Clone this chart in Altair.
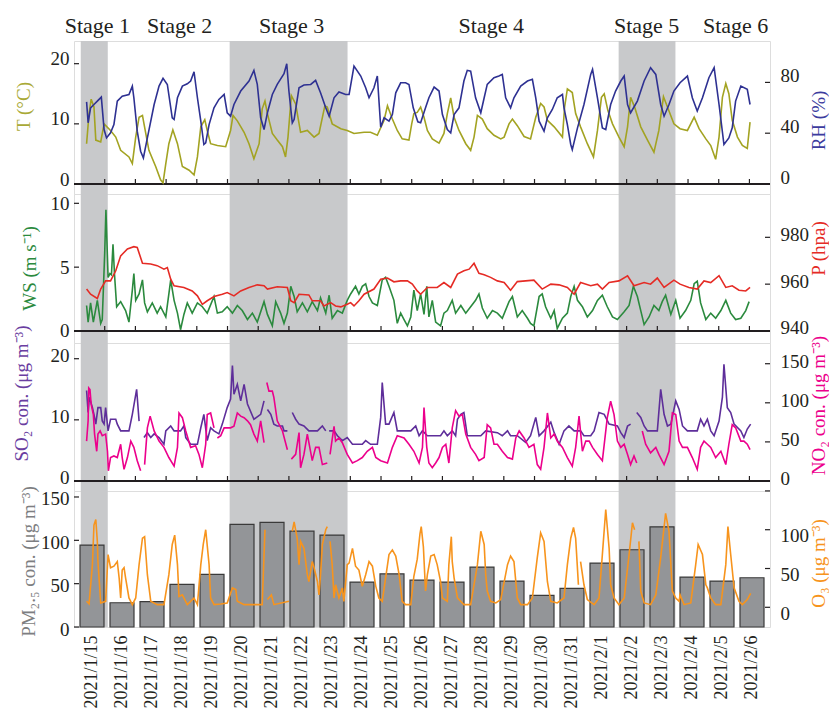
import altair as alt
import pandas as pd

FONT = "Liberation Serif"
INK = "#231f20"

# ---------------- data ----------------
DATES = ["2021/1/15", "2021/1/16", "2021/1/17", "2021/1/18", "2021/1/19", "2021/1/20",
         "2021/1/21", "2021/1/22", "2021/1/23", "2021/1/24", "2021/1/25", "2021/1/26",
         "2021/1/27", "2021/1/28", "2021/1/29", "2021/1/30", "2021/1/31", "2021/2/1",
         "2021/2/2", "2021/2/3", "2021/2/4", "2021/2/5", "2021/2/6"]
PM25 = [94.5, 28.0, 29.2, 49.2, 60.7, 118.3, 120.6, 110.6, 106.0, 51.8, 61.4, 54.1,
        51.8, 69.1, 53.0, 36.5, 44.5, 73.7, 89.1, 115.6, 57.6, 53.0, 56.8]

# time axis: days since 2021/1/15 00:00
SHADE_START = [0.22, 5.07, 17.74]
SHADE_END = [1.10, 8.91, 19.59]
STAGE_NAMES = ["Stage 1", "Stage 2", "Stage 3", "Stage 4", "Stage 5", "Stage 6"]
STAGE_MID = [0.76, 3.44, 7.09, 13.59, 18.65, 21.55]
DAY_TICKS = list(range(1, 23))
X_DOMAIN = [0, 22.67]

T_TICKS = [0, 10, 20]
RH_TICKS = [0, 40, 80]
WS_TICKS = [0, 5, 10]
P_TICKS = [940, 960, 980]
SO2_TICKS = [0, 10, 20]
NO2_TICKS = [0, 50, 100, 150]
PM_TICKS = [0, 50, 100, 150]
O3_TICKS = [0, 50, 100, 150]

T_SERIES = [(0.41, 6.7), (0.49, 11.7), (0.56, 14.1), (0.65, 12.8), (0.71, 7.3), (0.87, 7.0), (0.98, 10.0),
            (1.19, 8.9), (1.36, 7.8), (1.52, 5.6), (1.79, 4.5), (1.90, 3.4), (2.01, 7.8), (2.12, 11.1),
            (2.23, 11.4), (2.28, 10.0), (2.44, 5.6), (2.66, 2.9), (2.82, 0.7), (2.90, 0.2), (2.99, 3.4),
            (3.09, 6.7), (3.22, 9.0), (3.37, 6.7), (3.53, 2.9), (3.75, 2.3), (3.91, 1.5), (4.02, 4.5),
            (4.13, 9.5), (4.26, 10.7), (4.34, 8.9), (4.45, 6.7), (4.67, 6.4), (4.94, 6.2), (5.10, 8.9),
            (5.18, 11.4), (5.32, 10.5), (5.54, 8.6), (5.70, 6.7), (5.86, 4.2), (6.03, 6.7), (6.13, 12.5),
            (6.22, 13.8), (6.30, 11.7), (6.46, 8.4), (6.62, 7.3), (6.79, 6.2), (6.89, 4.5), (6.97, 7.8),
            (7.08, 14.7), (7.22, 13.3), (7.38, 8.6), (7.60, 8.9), (7.82, 7.8), (7.98, 8.4), (8.17, 13.0),
            (8.25, 12.8), (8.41, 10.0), (8.69, 9.2), (8.90, 8.9), (9.12, 8.4), (9.45, 8.6), (9.66, 8.6),
            (9.88, 8.1), (10.10, 10.6), (10.21, 13.0), (10.37, 10.8), (10.53, 8.9), (10.69, 7.5),
            (10.91, 7.3), (11.00, 10.0), (11.07, 11.7), (11.18, 11.9), (11.29, 12.8), (11.40, 11.1),
            (11.51, 8.9), (11.67, 7.5), (11.89, 6.8), (12.05, 8.4), (12.16, 11.7), (12.27, 14.3),
            (12.38, 11.1), (12.54, 8.9), (12.76, 6.7), (12.92, 5.6), (13.03, 7.8), (13.14, 11.4),
            (13.30, 10.8), (13.46, 9.2), (13.68, 8.1), (13.90, 7.5), (14.01, 7.8), (14.17, 10.0),
            (14.28, 10.8), (14.44, 9.7), (14.66, 7.9), (14.87, 7.5), (15.04, 11.1), (15.20, 13.4),
            (15.31, 12.8), (15.42, 10.6), (15.64, 9.5), (15.91, 7.8), (15.98, 12.8), (16.07, 15.8),
            (16.23, 15.2), (16.34, 11.7), (16.50, 9.5), (16.72, 6.7), (16.92, 4.5), (17.05, 8.9),
            (17.18, 14.4), (17.27, 15.0), (17.39, 12.2), (17.54, 10.0), (17.75, 7.8), (17.92, 6.2),
            (18.03, 9.5), (18.13, 14.4), (18.26, 12.8), (18.46, 9.5), (18.68, 7.3), (18.89, 5.3),
            (19.05, 8.9), (19.20, 14.5), (19.33, 12.8), (19.54, 10.0), (19.74, 9.2), (19.98, 8.9),
            (20.20, 11.1), (20.36, 9.2), (20.58, 7.5), (20.74, 6.4), (20.90, 4.1), (21.01, 7.8),
            (21.12, 14.4), (21.23, 16.7), (21.33, 15.0), (21.44, 10.6), (21.61, 7.8), (21.77, 6.4),
            (21.93, 5.9), (22.02, 10.3)]

RH_SERIES = [(0.41, 64.7), (0.46, 48.2), (0.54, 60.0), (0.65, 62.6), (0.76, 65.3), (0.89, 68.4), (0.98, 42.9),
             (1.06, 36.3), (1.19, 40.3), (1.30, 46.8), (1.41, 65.3), (1.57, 69.2), (1.79, 70.5), (1.90, 77.1),
             (1.95, 67.9), (2.06, 41.6), (2.17, 25.8), (2.26, 20.5), (2.39, 36.3), (2.61, 62.6), (2.77, 77.1),
             (2.90, 83.2), (3.04, 78.4), (3.20, 52.1), (3.26, 50.8), (3.37, 67.9), (3.53, 77.1), (3.69, 78.9),
             (3.80, 81.1), (3.91, 88.4), (4.02, 67.9), (4.13, 49.5), (4.23, 31.1), (4.29, 32.4), (4.40, 46.8),
             (4.56, 60.0), (4.72, 66.6), (4.89, 70.5), (4.99, 56.1), (5.10, 53.4), (5.21, 62.6), (5.43, 73.2),
             (5.70, 81.1), (5.86, 89.5), (5.97, 78.4), (6.08, 52.1), (6.19, 42.9), (6.30, 56.1), (6.46, 70.5),
             (6.62, 78.4), (6.84, 86.8), (6.93, 94.7), (7.00, 73.2), (7.11, 48.2), (7.17, 50.8), (7.33, 75.8),
             (7.49, 77.9), (7.71, 78.4), (7.87, 81.6), (8.03, 71.8), (8.20, 60.0), (8.31, 53.4), (8.47, 67.9),
             (8.63, 72.4), (8.85, 70.5), (8.96, 70.5), (9.12, 92.9), (9.34, 85.0), (9.50, 75.8), (9.61, 67.9),
             (9.77, 75.8), (9.88, 85.0), (9.99, 44.7), (10.10, 52.1), (10.26, 49.5), (10.37, 54.7),
             (10.48, 71.8), (10.64, 79.7), (10.80, 79.7), (10.91, 78.4), (11.05, 60.0), (11.20, 49.0),
             (11.29, 48.2), (11.45, 60.0), (11.56, 67.9), (11.73, 76.3), (11.89, 73.2), (12.00, 54.7),
             (12.16, 42.9), (12.27, 40.3), (12.38, 54.7), (12.54, 60.0), (12.70, 81.1), (12.81, 89.5),
             (12.92, 88.9), (13.08, 67.9), (13.25, 56.1), (13.36, 67.9), (13.46, 78.4), (13.68, 83.7),
             (13.84, 85.0), (13.95, 86.3), (14.06, 67.9), (14.22, 60.0), (14.33, 67.9), (14.55, 77.1),
             (14.77, 81.1), (14.93, 82.4), (15.04, 67.9), (15.15, 49.5), (15.31, 41.6), (15.42, 52.1),
             (15.58, 58.7), (15.74, 67.9), (15.91, 70.5), (15.96, 60.0), (16.07, 46.8), (16.18, 31.1),
             (16.23, 27.1), (16.40, 44.2), (16.61, 62.6), (16.83, 86.3), (16.89, 90.3), (17.05, 67.9),
             (17.21, 44.2), (17.32, 42.9), (17.48, 62.6), (17.64, 73.2), (17.81, 81.1), (17.92, 85.0),
             (18.03, 62.6), (18.13, 56.1), (18.35, 65.3), (18.57, 81.1), (18.78, 91.6), (18.95, 86.3),
             (19.11, 62.6), (19.22, 53.4), (19.38, 62.6), (19.54, 73.2), (19.74, 79.7), (19.98, 85.0),
             (20.14, 67.9), (20.30, 57.4), (20.47, 67.9), (20.68, 83.7), (20.85, 91.6), (21.01, 62.6),
             (21.17, 31.1), (21.33, 36.3), (21.44, 44.2), (21.55, 65.3), (21.72, 77.1), (21.93, 74.5),
             (22.02, 62.6)]

WS_SERIES = [(0.41, 2.0), (0.46, 0.7), (0.54, 2.2), (0.63, 0.7), (0.76, 2.4), (0.87, 0.6), (0.92, 0.9),
             (1.00, 6.1), (1.04, 9.5), (1.11, 4.2), (1.17, 4.5), (1.22, 4.4), (1.27, 6.8), (1.32, 4.4),
             (1.39, 1.9), (1.52, 2.3), (1.68, 1.6), (1.79, 0.7), (1.90, 3.2), (1.95, 4.5), (2.01, 2.4),
             (2.12, 2.9), (2.23, 4.0), (2.30, 2.2), (2.39, 1.5), (2.55, 2.2), (2.71, 1.4), (2.82, 1.9),
             (2.99, 1.1), (3.09, 2.9), (3.15, 4.0), (3.26, 2.4), (3.37, 1.4), (3.47, 0.1), (3.58, 1.3),
             (3.69, 2.2), (3.85, 1.4), (4.02, 2.2), (4.18, 1.9), (4.34, 1.4), (4.56, 2.7), (4.67, 1.4),
             (4.83, 1.5), (4.99, 1.9), (5.16, 1.4), (5.32, 2.0), (5.48, 1.6), (5.65, 0.9), (5.81, 1.4),
             (5.97, 0.7), (6.19, 2.3), (6.30, 1.3), (6.46, 0.4), (6.57, 2.3), (6.73, 1.4), (6.84, 0.6),
             (6.95, 1.4), (7.06, 3.5), (7.17, 2.7), (7.27, 1.5), (7.44, 2.2), (7.60, 1.5), (7.76, 2.3),
             (7.93, 1.6), (8.03, 2.6), (8.20, 1.4), (8.31, 2.8), (8.41, 1.0), (8.58, 1.6), (8.74, 1.4),
             (8.90, 2.4), (9.01, 2.9), (9.17, 3.5), (9.28, 2.9), (9.39, 3.5), (9.50, 3.7), (9.61, 2.7),
             (9.72, 2.2), (9.88, 2.0), (10.04, 4.0), (10.15, 4.2), (10.26, 3.5), (10.42, 2.4), (10.53, 0.6),
             (10.64, 1.4), (10.75, 0.9), (10.86, 0.4), (10.97, 1.1), (11.07, 3.2), (11.18, 1.6), (11.29, 2.9),
             (11.40, 1.3), (11.49, 3.5), (11.56, 1.1), (11.67, 2.4), (11.78, 0.7), (11.94, 0.4), (12.05, 1.4),
             (12.16, 1.6), (12.32, 2.4), (12.43, 1.4), (12.60, 2.0), (12.76, 1.4), (12.92, 1.9), (13.08, 2.4),
             (13.19, 2.9), (13.30, 1.8), (13.46, 1.0), (13.63, 1.6), (13.79, 1.4), (13.95, 1.0), (14.17, 2.3),
             (14.28, 2.7), (14.44, 1.1), (14.60, 1.6), (14.77, 1.0), (14.87, 0.6), (14.98, 0.4), (15.15, 2.7),
             (15.25, 2.9), (15.36, 1.9), (15.53, 1.0), (15.64, 1.6), (15.74, 0.2), (15.91, 1.0), (16.07, 1.4),
             (16.18, 2.7), (16.29, 3.5), (16.40, 2.4), (16.56, 1.9), (16.72, 1.1), (16.89, 1.6), (17.05, 2.4),
             (17.21, 2.8), (17.37, 1.9), (17.54, 1.1), (17.70, 0.9), (17.92, 1.5), (18.08, 2.0), (18.22, 3.5),
             (18.35, 2.7), (18.46, 1.6), (18.57, 0.5), (18.73, 1.1), (18.89, 2.0), (19.05, 1.6), (19.16, 2.3),
             (19.27, 2.8), (19.44, 1.3), (19.60, 2.4), (19.74, 1.0), (19.92, 1.6), (20.09, 2.4), (20.20, 3.7),
             (20.30, 3.9), (20.41, 2.2), (20.58, 0.9), (20.74, 1.4), (20.90, 1.0), (21.07, 1.6), (21.23, 2.4),
             (21.39, 1.4), (21.55, 0.9), (21.72, 1.0), (21.88, 1.6), (21.99, 2.3)]

P_SERIES = [(0.41, 957.9), (0.54, 955.7), (0.76, 953.9), (0.87, 957.9), (1.03, 961.4), (1.19, 961.4),
            (1.36, 965.7), (1.52, 972.1), (1.74, 975.0), (1.95, 976.0), (2.06, 975.7), (2.23, 968.9),
            (2.50, 968.6), (2.71, 967.9), (2.93, 966.4), (3.04, 967.1), (3.15, 962.1), (3.26, 959.3),
            (3.58, 958.6), (3.85, 957.1), (4.02, 955.0), (4.18, 951.4), (4.34, 952.9), (4.56, 954.7),
            (4.83, 955.7), (4.99, 956.4), (5.21, 955.0), (5.43, 957.1), (5.70, 958.6), (5.97, 959.7),
            (6.19, 959.3), (6.30, 957.9), (6.62, 958.9), (6.95, 958.6), (7.06, 952.9), (7.17, 952.1),
            (7.33, 955.7), (7.65, 955.4), (7.76, 952.9), (8.03, 952.9), (8.14, 950.7), (8.36, 952.1),
            (8.52, 950.7), (8.69, 950.3), (8.90, 951.4), (9.01, 952.1), (9.12, 950.7), (9.28, 952.9),
            (9.45, 955.7), (9.77, 957.9), (9.99, 962.1), (10.21, 962.6), (10.42, 961.0), (10.64, 961.4),
            (10.86, 961.4), (11.02, 960.0), (11.18, 957.1), (11.29, 955.7), (11.51, 958.6), (11.83, 958.6),
            (12.05, 960.7), (12.27, 958.6), (12.49, 964.3), (12.70, 965.7), (12.87, 966.4), (13.03, 968.9),
            (13.19, 964.6), (13.36, 964.0), (13.57, 962.9), (13.79, 961.4), (14.01, 960.7), (14.22, 957.4),
            (14.44, 961.1), (14.71, 961.4), (14.98, 961.7), (15.25, 957.9), (15.53, 960.0), (15.80, 959.7),
            (16.07, 958.6), (16.29, 955.7), (16.50, 960.7), (16.83, 959.3), (17.05, 960.0), (17.21, 957.9),
            (17.43, 960.7), (17.75, 961.4), (18.03, 963.6), (18.24, 959.3), (18.57, 960.7), (18.78, 960.0),
            (19.00, 962.6), (19.22, 958.6), (19.54, 961.7), (19.74, 960.0), (20.03, 958.6), (20.30, 957.9),
            (20.52, 961.4), (20.74, 960.7), (21.01, 963.6), (21.23, 958.6), (21.44, 959.3), (21.66, 957.4),
            (21.88, 957.1), (22.02, 958.6)]

SO2_SERIES = [(0.41, 14.8), (0.46, 11.2), (0.50, 13.7), (0.60, 12.0), (0.65, 10.9), (0.71, 9.3), (0.78, 12.0),
              (0.87, 12.0), (0.92, 9.8), (0.98, 9.3), (1.03, 12.0), (1.11, 8.2), (1.19, 10.1), (1.36, 10.1),
              (1.41, 9.3), (1.52, 8.2), (1.79, 8.2), (1.90, 10.9), (2.04, 15.0), (2.12, 9.8), (2.20, None),
              (2.28, 7.1), (2.39, 7.9), (2.50, 7.1), (2.61, 7.7), (2.77, 7.1), (2.93, 6.0), (2.99, 8.2),
              (3.15, 9.0), (3.26, 8.2), (3.47, 8.2), (3.58, 9.0), (3.64, 7.1), (3.80, 6.0), (4.02, 6.0),
              (4.13, 8.7), (4.23, 10.9), (4.34, 6.6), (4.45, 8.7), (4.56, 8.2), (4.72, 7.7), (4.83, 9.3),
              (4.99, 12.0), (5.10, 13.4), (5.16, 18.9), (5.21, 14.2), (5.32, 15.8), (5.43, 13.1), (5.54, 15.8),
              (5.65, 12.6), (5.86, 10.1), (6.08, 10.9), (6.19, 13.1), (6.25, None), (6.30, 11.7), (6.41, 10.9),
              (6.51, 9.3), (6.62, 9.0), (6.79, 9.0), (6.84, 8.2), (6.95, 8.2), (7.03, None), (7.11, 11.2),
              (7.22, 10.1), (7.33, 9.3), (7.49, 9.0), (7.65, 8.2), (7.93, 8.2), (8.09, 9.0), (8.20, 8.2),
              (8.26, None), (8.31, 8.2), (8.47, 8.2), (8.58, 7.4), (8.74, 6.6), (8.90, 7.1), (9.07, 6.0),
              (9.39, 6.0), (9.50, 6.6), (9.66, 6.0), (9.88, 6.0), (9.99, 10.4), (10.04, 16.1), (10.15, 9.3),
              (10.26, 9.3), (10.42, 11.2), (10.53, 8.2), (10.75, 8.2), (10.97, 8.2), (11.13, 9.0), (11.24, 7.4),
              (11.35, 8.2), (11.51, 7.4), (11.94, 7.4), (12.05, 8.2), (12.16, 7.4), (12.32, 8.2), (12.43, 7.4),
              (12.49, 10.1), (12.60, 10.9), (12.70, 11.2), (12.81, 7.4), (13.25, 7.4), (13.41, 8.2), (13.79, 7.9),
              (13.95, 7.4), (14.12, 8.2), (14.22, 7.4), (14.44, 7.4), (14.71, 6.3), (14.87, 7.4), (15.04, 10.4),
              (15.15, 7.4), (15.31, 8.2), (15.53, 9.6), (15.64, 7.9), (15.80, 6.0), (15.96, 8.2), (16.12, 9.0),
              (16.29, 8.2), (16.50, 8.2), (16.61, 7.4), (16.83, 7.4), (16.94, 8.2), (17.10, 11.2), (17.27, 10.9),
              (17.43, 9.3), (17.70, 9.0), (17.81, 7.9), (17.92, 7.1), (18.03, 9.0), (18.13, 9.3), (18.23, None),
              (18.33, 11.2), (18.46, 10.4), (18.57, 9.0), (18.68, 8.2), (19.00, 8.2), (19.11, 15.0), (19.22, 10.9),
              (19.33, 9.0), (19.44, 9.3), (19.60, 13.1), (19.71, 11.7), (19.82, 9.0), (19.98, 8.2), (20.30, 8.2),
              (20.41, 10.1), (20.52, 9.0), (20.63, 10.1), (20.74, 8.2), (20.85, 7.4), (21.01, 9.8), (21.12, 13.7),
              (21.17, 19.1), (21.28, 12.0), (21.39, 11.2), (21.50, 9.3), (21.72, 8.2), (21.82, 7.1), (21.93, 8.5),
              (22.04, 9.3)]

NO2_SERIES = [(0.41, 51), (0.46, 77), (0.48, 119), (0.52, 117), (0.56, 98), (0.63, 85), (0.67, 60), (0.74, 38),
              (0.78, 60), (0.85, 64), (0.92, 58), (1.03, 60), (1.09, 38), (1.12, 13), (1.19, 30), (1.30, 32),
              (1.41, 30), (1.52, 47), (1.57, 30), (1.63, 15), (1.74, 30), (1.85, 51), (1.95, 43), (2.06, 26),
              (2.17, 13), (2.23, None), (2.30, 21), (2.39, 68), (2.48, 83), (2.61, 64), (2.77, 51), (2.93, 43),
              (3.09, 30), (3.26, 19), (3.37, 43), (3.42, 87), (3.53, 81), (3.64, 64), (3.80, 43), (3.96, 45),
              (4.07, 34), (4.18, 17), (4.29, 47), (4.34, 85), (4.45, 87), (4.56, 68), (4.61, None), (4.67, 55),
              (4.78, 58), (4.89, 68), (5.10, 68), (5.21, 70), (5.32, 87), (5.43, 83), (5.54, 81), (5.65, 77),
              (5.75, 72), (5.86, 60), (5.97, 51), (6.08, 77), (6.19, 49), (6.23, None), (6.28, 126), (6.35, 115),
              (6.46, 115), (6.51, 107), (6.62, 77), (6.79, 64), (6.95, 40), (7.02, None), (7.08, 28), (7.22, 34),
              (7.33, 62), (7.38, 17), (7.49, 34), (7.60, 60), (7.76, 26), (7.87, 43), (7.98, 43), (8.09, 21),
              (8.25, 23), (8.29, None), (8.34, 34), (8.47, 70), (8.52, 51), (8.63, 55), (8.74, 49), (8.90, 34),
              (9.07, 23), (9.23, 26), (9.39, 30), (9.55, 38), (9.72, 43), (9.83, 30), (9.99, 26), (10.21, 23),
              (10.37, 43), (10.53, 58), (10.75, 55), (10.91, 47), (11.07, 38), (11.24, 23), (11.35, 43),
              (11.40, 94), (11.49, 43), (11.56, 23), (11.67, 17), (11.78, 23), (11.89, 30), (12.00, 43),
              (12.11, 47), (12.21, 23), (12.32, 68), (12.43, 90), (12.54, 83), (12.65, 85), (12.76, 60),
              (12.92, 43), (13.08, 34), (13.19, 26), (13.36, 30), (13.46, 72), (13.57, 68), (13.68, 47),
              (13.79, 47), (13.95, 38), (14.12, 30), (14.28, 28), (14.39, 55), (14.50, 64), (14.66, 55),
              (14.82, 43), (14.98, 47), (15.09, 21), (15.20, 15), (15.31, 43), (15.42, 87), (15.53, 55),
              (15.64, 60), (15.74, 51), (15.91, 43), (16.07, 30), (16.23, 19), (16.34, 43), (16.45, 83),
              (16.56, 38), (16.67, 51), (16.78, 51), (16.89, 43), (17.05, 34), (17.21, 26), (17.37, 81),
              (17.48, 102), (17.59, 85), (17.70, 51), (17.81, 43), (17.92, 47), (18.03, 34), (18.13, 21),
              (18.24, 32), (18.33, 23), (18.42, None), (18.51, 64), (18.62, 47), (18.78, 36), (18.95, 43),
              (19.05, 34), (19.22, 21), (19.38, 38), (19.49, 87), (19.60, 85), (19.71, 51), (19.82, 43),
              (19.98, 43), (20.14, 30), (20.30, 15), (20.41, 43), (20.52, 51), (20.63, 47), (20.74, 43),
              (20.90, 30), (21.07, 38), (21.23, 21), (21.33, 47), (21.44, 72), (21.55, 68), (21.72, 51),
              (21.82, 51), (21.93, 47), (22.02, 40)]

O3_SERIES = [(0.41, 7.7), (0.49, 4.3), (0.60, 55), (0.65, 106), (0.71, 113), (0.76, 85), (0.78, 59), (0.87, 5.6),
             (1.03, 7.7), (1.11, 68), (1.19, 51), (1.30, 53), (1.41, 59), (1.47, 38), (1.52, 12), (1.57, 48),
             (1.63, 51), (1.68, 38), (1.79, 12), (1.90, 3.4), (2.01, 12), (2.12, 55), (2.23, 89), (2.30, 91),
             (2.39, 42), (2.50, 7.7), (2.71, 3.4), (2.93, 3.4), (3.09, 42), (3.20, 81), (3.28, 93), (3.37, 55),
             (3.42, 14), (3.53, 16), (3.69, 3.4), (3.91, 12), (4.02, 3.4), (4.13, 55), (4.21, 81), (4.29, 100),
             (4.40, 55), (4.45, 12), (4.56, 3.4), (4.78, 4.3), (4.99, 5.6), (5.16, 25), (5.27, 23), (5.32, 7.7),
             (5.54, 3.4), (5.86, 3.4), (6.13, 3.4), (6.22, 100), (6.26, None), (6.30, 10), (6.43, 16), (6.51, 3.4),
             (7.00, 7.7), (7.05, None), (7.11, 98), (7.17, 110), (7.27, 89), (7.33, 55), (7.38, 85), (7.49, 76),
             (7.60, 42), (7.65, 33), (7.76, 59), (7.82, 51), (7.93, 33), (7.98, 16), (8.03, 42), (8.09, 81),
             (8.20, 100), (8.25, 104), (8.30, None), (8.34, 85), (8.41, 55), (8.47, 12), (8.52, 29), (8.63, 12),
             (8.74, 25), (8.79, 7.7), (8.90, 55), (8.96, 57), (9.07, 76), (9.17, 53), (9.28, 48), (9.39, 27),
             (9.50, 42), (9.61, 59), (9.72, 53), (9.83, 27), (9.93, 12), (10.04, 7.7), (10.15, 38), (10.26, 68),
             (10.37, 74), (10.48, 66), (10.59, 42), (10.69, 7.7), (10.80, 3.4), (10.97, 3.4), (11.07, 40),
             (11.18, 62), (11.27, 95), (11.31, 104), (11.38, 78), (11.45, 21), (11.51, 42), (11.62, 66),
             (11.73, 68), (11.83, 55), (11.94, 33), (12.00, 12), (12.16, 7.7), (12.21, 55), (12.29, 91),
             (12.32, 59), (12.38, 38), (12.49, 12), (12.70, 3.4), (12.92, 3.4), (13.14, 55), (13.25, 98),
             (13.36, 81), (13.41, 42), (13.46, 21), (13.57, 7.7), (13.74, 5.6), (13.90, 10), (14.12, 55),
             (14.22, 66), (14.33, 59), (14.44, 12), (14.55, 3.4), (14.77, 3.4), (14.93, 12), (15.09, 64),
             (15.20, 96), (15.31, 85), (15.42, 33), (15.53, 7.7), (15.74, 5.6), (15.96, 12), (16.07, 55),
             (16.18, 89), (16.27, 103), (16.34, 89), (16.43, 29), (16.46, None), (16.50, 59), (16.61, 29),
             (16.72, 10), (16.94, 3.4), (17.10, 12), (17.21, 68), (17.32, 126), (17.43, 76), (17.48, 29),
             (17.59, 12), (17.75, 3.4), (17.92, 12), (18.08, 68), (18.19, 109), (18.26, 100), (18.33, None),
             (18.40, 85), (18.46, 21), (18.57, 5.6), (18.78, 3.4), (18.95, 16), (19.11, 64), (19.27, 121),
             (19.38, 98), (19.49, 21), (19.60, 12), (19.71, 7.7), (19.74, 16), (19.87, 3.4), (20.09, 5.6),
             (20.25, 55), (20.33, 81), (20.47, 68), (20.58, 29), (20.63, 25), (20.74, 12), (20.90, 3.4),
             (21.07, 3.4), (21.23, 55), (21.30, 104), (21.39, 68), (21.50, 25), (21.66, 7.7), (21.77, 3.4),
             (21.93, 10), (22.04, 18)]

# ---------------- styling ----------------
W = 696
SHADE = "#c8c9cb"
T_COLOR, RH_COLOR = "#a3a322", "#2e3192"
WS_COLOR, P_COLOR = "#2b8a3e", "#e52b25"
SO2_COLOR, NO2_COLOR = "#5e2e9a", "#ec008c"
PM_COLOR, O3_COLOR = "#7d7e81", "#f7941d"


def series_df(pairs):
    rows, seg = [], 0
    for d, v in pairs:
        if v is None:
            seg += 1
            continue
        rows.append({"d": d, "v": v, "seg": seg})
    return pd.DataFrame(rows)


def xq(field="d"):
    return alt.X(f"{field}:Q", scale=alt.Scale(domain=X_DOMAIN, nice=False, zero=False), axis=None)


def yaxis(orient, values, title, color, tpad, ty, loff):
    left = orient == "left"
    return alt.Axis(orient=orient, values=values, title=title, titleColor=color, titleFont=FONT,
                    titleFontSize=19, titleFontWeight="normal", titlePadding=tpad, titleAngle=270,
                    titleBaseline="bottom" if left else "top", titleY=ty,
                    labelFont=FONT, labelFontSize=19, labelColor=INK, labelPadding=5 if left else 10,
                    labelOffset=loff,
                    ticks=False, tickSize=0, domain=False, grid=False,
                    labelFlush=False, labelOverlap=False, labelBound=False)


def yenc(domain, axis):
    return alt.Y("v:Q", scale=alt.Scale(domain=domain, nice=False, zero=False), axis=axis)


shade_df = pd.DataFrame({"d": SHADE_START, "e": SHADE_END})
dayticks_df = pd.DataFrame({"d": DAY_TICKS})
stage_df = pd.DataFrame({"d": STAGE_MID, "name": STAGE_NAMES})


def shade(h):
    return alt.Chart(shade_df).mark_rect(color=SHADE).encode(
        x=xq(), x2="e:Q", y=alt.value(0), y2=alt.value(h))


def frame_bottom(fh):
    return alt.Chart(dayticks_df).mark_rule(color=INK, strokeWidth=1.5).encode(
        x=alt.value(0), x2=alt.value(W), y=alt.value(fh))


def day_ticks(fh):
    return alt.Chart(dayticks_df).mark_rule(color=INK, strokeWidth=1.2).encode(
        x=xq(), y=alt.value(fh), y2=alt.value(fh - 5))


def line(pairs, y, color):
    return alt.Chart(series_df(pairs)).mark_line(color=color, strokeWidth=1.6).encode(
        x=xq(), y=y, detail="seg:N")


def yticks(values, y, side):
    x0, x1 = (0, 5) if side == "left" else (W - 5, W)
    return alt.Chart(pd.DataFrame({"v": values})).mark_rule(color=INK, strokeWidth=1.2).encode(
        y=y, x=alt.value(x0), x2=alt.value(x1))


# ---- panel 1: T / RH ----
H1, F1 = 153, 143
Y_T = yenc([-1.66, 23.77], yaxis("left", T_TICKS, "T (°C)", "#a9a936", 17, 65, -5))
Y_RH = yenc([-7.87, 112.6], yaxis("right", RH_TICKS, "RH (%)", "#3c3c9e", 10, 79, -7))
stage_text = alt.Chart(stage_df).mark_text(font=FONT, fontSize=22, color=INK, baseline="middle").encode(
    x=xq(), y=alt.value(-15), text="name:N")
p1 = alt.layer(
    alt.layer(shade(H1), frame_bottom(F1), day_ticks(F1), line(T_SERIES, Y_T, T_COLOR),
              yticks(T_TICKS, Y_T, "left"), stage_text),
    alt.layer(line(RH_SERIES, Y_RH, RH_COLOR), yticks(RH_TICKS, Y_RH, "right")),
).resolve_scale(y="independent").properties(width=W, height=H1)

# ---- panel 2: WS / P ----
H2, F2 = 149, 137
Y_WS = yenc([-0.94, 10.73], yaxis("left", WS_TICKS, "WS (m s⁻¹)", WS_COLOR, 11, 74, 0))
Y_P = yenc([934.87, 998.5], yaxis("right", P_TICKS, "P (hpa)", P_COLOR, 1, 54, -3))
p2 = alt.layer(
    alt.layer(shade(H2), frame_bottom(F2), day_ticks(F2), line(WS_SERIES, Y_WS, WS_COLOR),
              yticks(WS_TICKS, Y_WS, "left")),
    alt.layer(line(P_SERIES, Y_P, P_COLOR), yticks(P_TICKS, Y_P, "right")),
).resolve_scale(y="independent").properties(width=W, height=H2)

# ---- panel 3: SO2 / NO2 ----
H3, F3 = 148, 138
Y_SO2 = yenc([-1.64, 22.57], yaxis("left", SO2_TICKS, "SO₂ con. (μg m⁻³)", "#6a3ea1", 19, 50, -3))
Y_NO2 = yenc([-12.8, 176.5], yaxis("right", NO2_TICKS, "NO₂ con. (μg m⁻³)", NO2_COLOR, 1, 62, -2))
p3 = alt.layer(
    alt.layer(shade(H3), frame_bottom(F3), day_ticks(F3), line(SO2_SERIES, Y_SO2, SO2_COLOR),
              yticks(SO2_TICKS, Y_SO2, "left")),
    alt.layer(line(NO2_SERIES, Y_NO2, NO2_COLOR), yticks(NO2_TICKS, Y_NO2, "right")),
).resolve_scale(y="independent").properties(width=W, height=H3)

# ---- panel 4: PM2.5 bars / O3 ----
H4 = 136
Y_PM = yenc([0, 156.9], yaxis("left", PM_TICKS, "PM₂.₅ con. (μg m⁻³)", PM_COLOR, 2, 70, 2))
Y_O3 = yenc([-25.4, 149.9], yaxis("right", O3_TICKS, "O₃ (μg m⁻³)", O3_COLOR, 1, 72, 6))
pm_df = pd.DataFrame({"date": DATES, "v": PM25})
bars = alt.Chart(pm_df).mark_bar(fill="#939598", stroke="#3a3a3a", strokeWidth=1.2).encode(
    x=alt.X("date:N", sort=DATES,
            scale=alt.Scale(type="band", paddingInner=0.2, paddingOuter=0.2),
            axis=alt.Axis(orient="bottom", title=None, labelAngle=270, labelFont=FONT,
                          labelFontSize=18, labelColor=INK, labelPadding=8, ticks=False,
                          domain=False, grid=False, labelOverlap=False)),
    y=Y_PM)
p4 = alt.layer(
    alt.layer(shade(H4)),
    alt.layer(bars, yticks(PM_TICKS, Y_PM, "left")),
    alt.layer(line(O3_SERIES, Y_O3, O3_COLOR), yticks(O3_TICKS, Y_O3, "right")),
).resolve_scale(x="independent", y="independent").properties(width=W, height=H4)

chart = alt.vconcat(p1, p2, p3, p4, spacing=0, bounds="flush").properties(
    padding={"left": 3, "top": 6, "right": 0, "bottom": 0}
).configure_view(stroke=INK, strokeWidth=1.5).configure(font=FONT)

chart.save("out.html", embed_options={"renderer": "svg", "actions": False})
